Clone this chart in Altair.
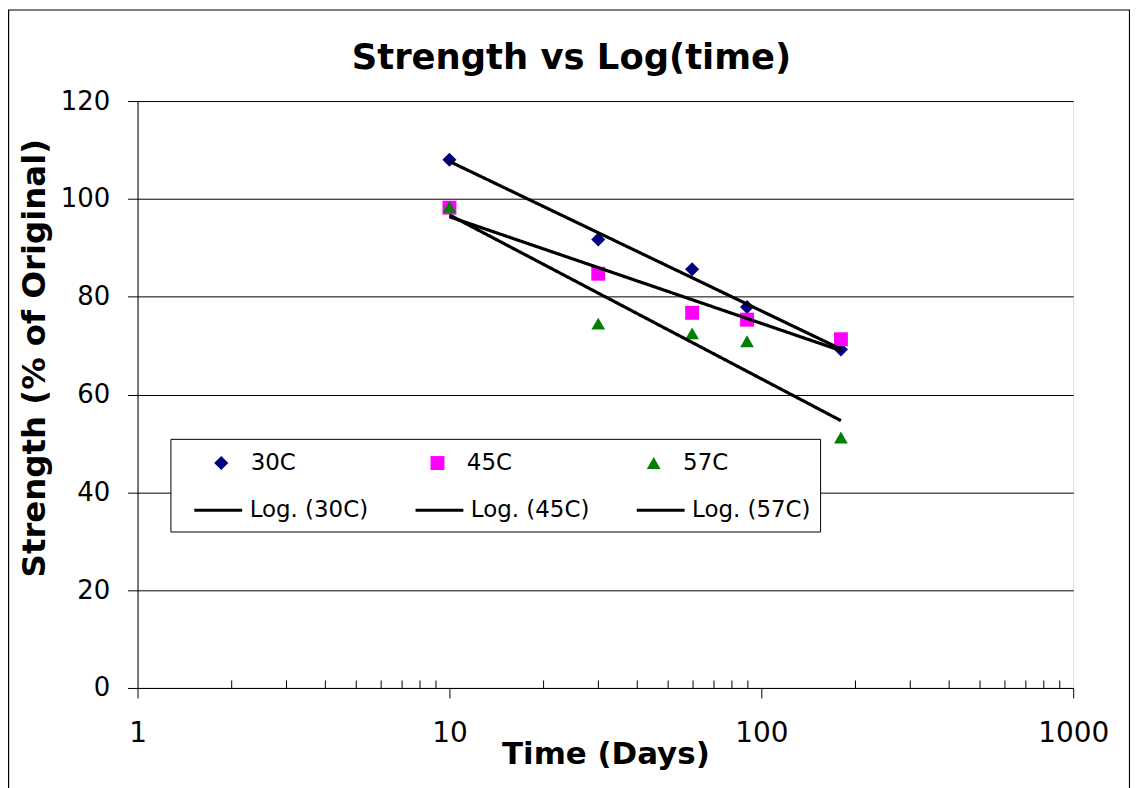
import altair as alt
import pandas as pd

# ---- data ----
days = [10, 30, 60, 90, 180]
s30 = [108.0, 91.7, 85.6, 77.9, 69.2]
s45 = [98.2, 84.7, 76.7, 75.3, 71.3]
s57 = [98.4, 74.5, 72.5, 70.9, 51.2]
series_names = ["30C", "45C", "57C"]
trend_names = ["Log. (30C)", "Log. (45C)", "Log. (57C)"]
point_colors = ["#000080", "#FF00FF", "#008000"]
point_shapes = ["diamond", "square", "triangle-up"]
point_sizes = [200, 190, 230]
x_major = [1, 10, 100, 1000]
x_ticks = [1, 2, 3, 4, 5, 6, 7, 8, 9, 10, 20, 30, 40, 50, 60, 70, 80, 90, 100,
           200, 300, 400, 500, 600, 700, 800, 900, 1000]
y_ticks = [0, 20, 40, 60, 80, 100, 120]

rows = []
for name, vals in zip(series_names, [s30, s45, s57]):
    for d, v in zip(days, vals):
        rows.append({"days": d, "strength": v, "series": name})
df = pd.DataFrame(rows)

FONT = "DejaVu Sans"
W, H = 939, 589

color_scale = alt.Scale(domain=series_names, range=point_colors)
shape_scale = alt.Scale(domain=series_names, range=point_shapes)
size_scale = alt.Scale(domain=series_names, range=point_sizes)
dash_scale = alt.Scale(domain=trend_names, range=[[1, 0], [1, 0], [1, 0]])

point_legend = alt.Legend(
    title=None, orient="none", legendX=72.5, legendY=351.5, columns=3,
    direction="horizontal", padding=0, symbolSize=150, symbolOpacity=1,
    symbolStrokeWidth=0,
    labelFont=FONT, labelFontSize=23, labelColor="black",
    labelOffset=18, columnPadding=130, rowPadding=0, labelLimit=300, zindex=2,
)
line_legend = alt.Legend(
    title=" ", titleFontSize=20, titlePadding=17, orient="none",
    legendX=33, legendY=339, columns=3, direction="horizontal",
    strokeColor="black", fillColor="white", padding=9, symbolOffset=13.5,
    symbolType="stroke", symbolSize=2304, symbolStrokeWidth=3,
    symbolStrokeColor="black", symbolOpacity=1,
    labelFont=FONT, labelFontSize=23, labelColor="black",
    labelOffset=6, columnPadding=32, rowPadding=0, labelLimit=300, zindex=1,
)

x_scale = alt.Scale(type="log", domain=[1, 1000], nice=False)
y_scale = alt.Scale(domain=[0, 120], nice=False, zero=True)

major_test = f"indexof({x_major}, datum.value) >= 0"
x_axis = alt.Axis(
    orient="bottom", values=x_ticks, grid=False,
    labelExpr=f"{major_test} ? datum.value : ''",
    tickSize=alt.ExprRef(expr=f"{major_test} ? 10 : -8"),
    tickColor="black", domainColor="black",
    labelFont=FONT, labelFontSize=28, labelColor="black", labelPadding=22,
    labelFlush=False, labelOverlap=False,
    title="Time (Days)", titleFont=FONT, titleFontSize=31, titleFontWeight="bold",
    titleColor="black", titleBaseline="alphabetic", titleY=76,
)
y_axis = alt.Axis(
    values=y_ticks, grid=True, gridColor="black", gridWidth=1, gridOpacity=1,
    tickSize=10, tickColor="black", domainColor="black",
    labelFont=FONT, labelFontSize=26, labelColor="black", labelPadding=18,
    title="Strength (% of Original)", titleFont=FONT, titleFontSize=32.5,
    titleFontWeight="bold", titleColor="black", titleBaseline="alphabetic",
    titleX=-93, titleY=257.5,
)

points = alt.Chart(df).mark_point(filled=True, opacity=1).encode(
    x=alt.X("days:Q", scale=x_scale, axis=x_axis),
    y=alt.Y("strength:Q", scale=y_scale, axis=y_axis),
    color=alt.Color("series:N", scale=color_scale, legend=point_legend),
    shape=alt.Shape("series:N", scale=shape_scale, legend=point_legend),
    size=alt.Size("series:N", scale=size_scale, legend=None),
)

trends = alt.Chart(df).transform_regression(
    "days", "strength", groupby=["series"], method="log"
).transform_calculate(
    trend="'Log. (' + datum.series + ')'"
).mark_line(strokeWidth=3.2, color="black").encode(
    x=alt.X("days:Q", scale=x_scale, axis=x_axis),
    y=alt.Y("strength:Q", scale=y_scale, axis=y_axis),
    strokeDash=alt.StrokeDash("trend:N", scale=dash_scale, legend=line_legend),
)

frame = alt.Chart(pd.DataFrame({"k": [0]})).mark_rect(
    filled=False, stroke="black", strokeWidth=1.2
).encode(
    x=alt.value(-129.4), x2=alt.value(995.5),
    y=alt.value(-91.4), y2=alt.value(720),
)

chart = alt.layer(points, trends, frame).properties(
    width=W, height=H,
    autosize=alt.AutoSizeParams(type="none"),
    padding={"left": 130, "top": 92, "right": 57, "bottom": 99},
    title=alt.TitleParams(
        "Strength vs Log(time)", font=FONT, fontSize=35.5, fontWeight="bold",
        color="black", anchor="middle", dx=-34, baseline="alphabetic", offset=-95,
    ),
).configure_view(stroke="black", strokeWidth=1).configure(background="white")

chart.save("out.html", embed_options={"renderer": "svg", "actions": False})
